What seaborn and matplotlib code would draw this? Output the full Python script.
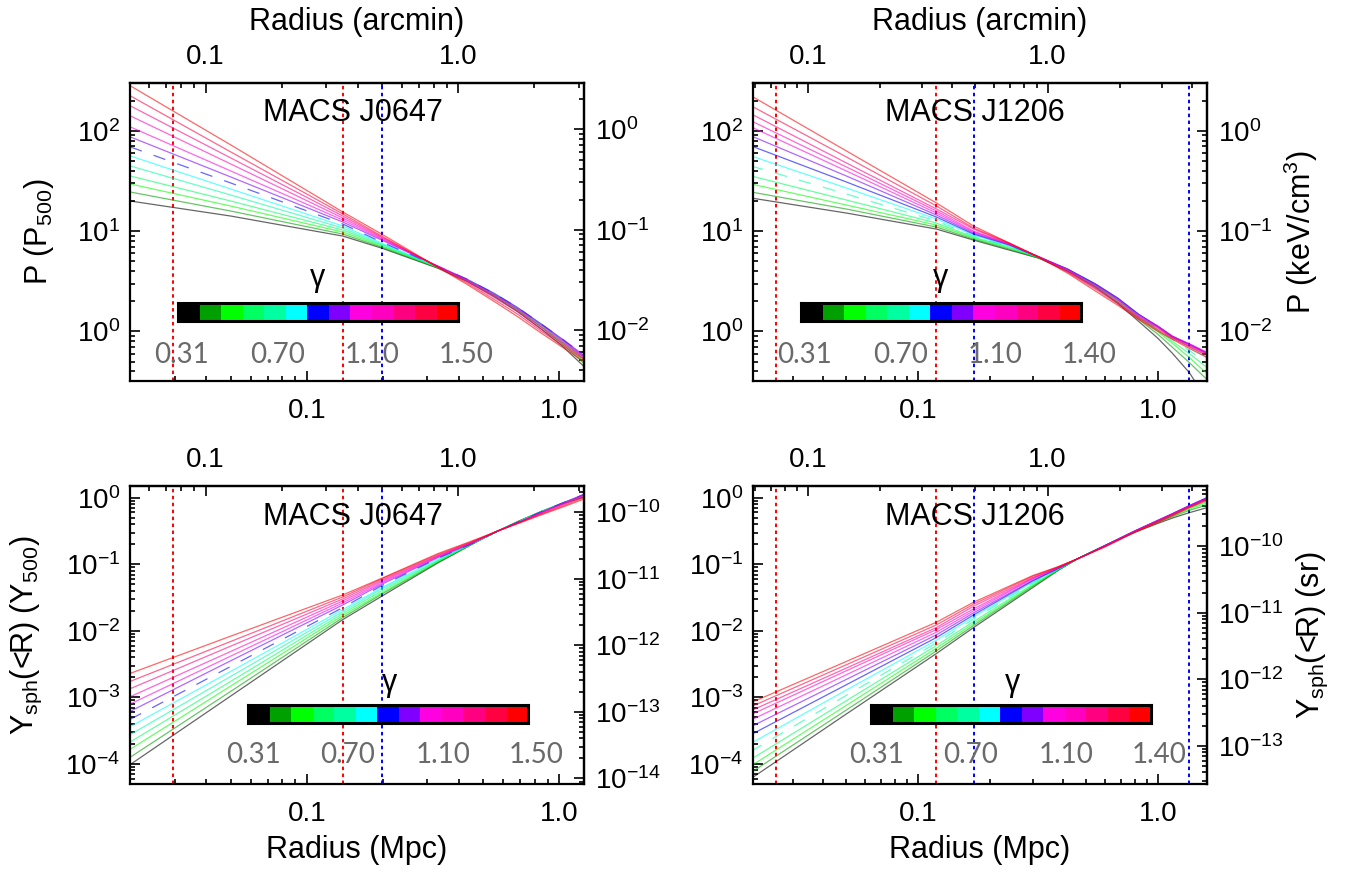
import numpy as np
import pandas as pd
import matplotlib
matplotlib.use("Agg")
import matplotlib.pyplot as plt
import seaborn as sns
from matplotlib.colors import ListedColormap
from matplotlib.ticker import LogLocator, NullFormatter, FixedLocator, FixedFormatter

sns.set_style("ticks")
plt.rcParams['font.family'] = ['Liberation Sans', 'DejaVu Sans']
plt.rcParams['mathtext.fontset'] = 'custom'
plt.rcParams['mathtext.rm'] = 'Liberation Sans'
plt.rcParams['mathtext.it'] = 'Liberation Sans:italic'
plt.rcParams['mathtext.default'] = 'regular'
plt.rcParams['lines.scale_dashes'] = False
for k in ['text.color', 'axes.edgecolor', 'axes.labelcolor', 'xtick.color', 'ytick.color']:
    plt.rcParams[k] = 'black'

# colour table of the gamma bar (low gamma -> high gamma)
gamma_colors = ['#000000', '#00a000', '#00ff00', '#00ff60', '#00ffa0', '#00ffff', '#0000ff',
                '#8000ff', '#ff00e0', '#ff00c0', '#ff0080', '#ff0040', '#ff0000']
gamma_0647 = [0.31, 0.40, 0.50, 0.60, 0.70, 0.80, 0.90, 1.00, 1.10, 1.20, 1.30, 1.40, 1.50]
gamma_1206 = [0.31, 0.40, 0.50, 0.60, 0.70, 0.78, 0.86, 0.94, 1.02, 1.10, 1.20, 1.30, 1.40]
gamma_ticks_0647 = ['0.31', '0.70', '1.10', '1.50']
gamma_ticks_1206 = ['0.31', '0.70', '1.10', '1.40']

# pressure profiles, log10 P/P500 (rows: gamma, low to high)
r_0647_P = [0.02, 0.05, 0.139, 0.198, 0.33, 0.43, 0.55, 0.68, 0.85, 1.03, 1.25]
logP_0647 = [
    [1.30, 1.15, 0.95, 0.83, 0.630, 0.500, 0.35, 0.200, 0.02, -0.150, -0.35],
    [1.39, 1.20, 0.97, 0.84, 0.635, 0.505, 0.36, 0.210, 0.04, -0.130, -0.32],
    [1.47, 1.25, 0.99, 0.85, 0.640, 0.510, 0.37, 0.220, 0.05, -0.115, -0.30],
    [1.55, 1.30, 1.01, 0.86, 0.640, 0.515, 0.37, 0.225, 0.06, -0.100, -0.28],
    [1.65, 1.36, 1.03, 0.87, 0.645, 0.520, 0.38, 0.235, 0.07, -0.090, -0.26],
    [1.75, 1.42, 1.05, 0.88, 0.645, 0.520, 0.38, 0.240, 0.07, -0.085, -0.25],
    [1.84, 1.48, 1.07, 0.89, 0.650, 0.520, 0.38, 0.240, 0.07, -0.080, -0.24],
    [1.94, 1.54, 1.09, 0.91, 0.650, 0.520, 0.38, 0.240, 0.07, -0.080, -0.24],
    [2.04, 1.60, 1.11, 0.92, 0.650, 0.515, 0.37, 0.230, 0.06, -0.090, -0.25],
    [2.15, 1.67, 1.13, 0.93, 0.645, 0.510, 0.36, 0.220, 0.04, -0.105, -0.26],
    [2.25, 1.73, 1.15, 0.94, 0.645, 0.500, 0.34, 0.200, 0.02, -0.120, -0.27],
    [2.35, 1.79, 1.17, 0.95, 0.640, 0.485, 0.32, 0.175, 0.00, -0.140, -0.28],
    [2.45, 1.86, 1.19, 0.97, 0.640, 0.470, 0.30, 0.150, -0.02, -0.160, -0.30],
]
r_1206_P = [0.02, 0.05, 0.119, 0.17, 0.24, 0.318, 0.42, 0.55, 0.68, 0.83, 1.0, 1.15, 1.35, 1.6]
logP_1206 = [
    [1.33, 1.18, 1.02, 0.91, 0.810, 0.730, 0.600, 0.44, 0.280, 0.10, -0.070, -0.22, -0.410, -0.68],
    [1.39, 1.22, 1.04, 0.92, 0.820, 0.730, 0.605, 0.45, 0.295, 0.12, -0.030, -0.16, -0.310, -0.48],
    [1.47, 1.26, 1.06, 0.93, 0.830, 0.735, 0.610, 0.46, 0.310, 0.14, -0.005, -0.12, -0.260, -0.42],
    [1.55, 1.31, 1.08, 0.94, 0.840, 0.740, 0.615, 0.46, 0.315, 0.15, 0.010, -0.10, -0.220, -0.36],
    [1.65, 1.37, 1.10, 0.95, 0.845, 0.740, 0.620, 0.47, 0.320, 0.16, 0.030, -0.08, -0.190, -0.31],
    [1.75, 1.43, 1.12, 0.96, 0.850, 0.740, 0.620, 0.47, 0.330, 0.17, 0.040, -0.06, -0.155, -0.26],
    [1.85, 1.49, 1.14, 0.97, 0.860, 0.740, 0.620, 0.47, 0.330, 0.17, 0.050, -0.05, -0.130, -0.22],
    [1.95, 1.55, 1.16, 0.98, 0.865, 0.745, 0.620, 0.47, 0.330, 0.17, 0.050, -0.05, -0.125, -0.21],
    [2.04, 1.60, 1.18, 0.99, 0.870, 0.745, 0.615, 0.46, 0.320, 0.16, 0.050, -0.05, -0.125, -0.21],
    [2.10, 1.64, 1.20, 1.00, 0.870, 0.740, 0.610, 0.45, 0.310, 0.15, 0.040, -0.06, -0.135, -0.22],
    [2.17, 1.68, 1.22, 1.02, 0.875, 0.740, 0.600, 0.43, 0.290, 0.14, 0.030, -0.06, -0.145, -0.23],
    [2.25, 1.74, 1.25, 1.03, 0.880, 0.740, 0.590, 0.42, 0.275, 0.13, 0.015, -0.07, -0.155, -0.24],
    [2.35, 1.80, 1.28, 1.05, 0.880, 0.740, 0.580, 0.40, 0.260, 0.12, 0.000, -0.08, -0.170, -0.26],
]

# integrated Y profiles, log10 Y/Y500
r_0647_Y = [0.02, 0.05, 0.139, 0.198, 0.33, 0.45, 0.57, 0.7, 0.85, 1.03, 1.25]
logY_0647 = [
    [-4.01, -2.980, -1.83, -1.48, -0.980, -0.700, -0.50, -0.340, -0.205, -0.090, 0.010],
    [-3.90, -2.910, -1.80, -1.45, -0.970, -0.700, -0.50, -0.345, -0.205, -0.085, 0.020],
    [-3.78, -2.830, -1.77, -1.43, -0.960, -0.695, -0.50, -0.345, -0.205, -0.080, 0.030],
    [-3.67, -2.760, -1.74, -1.40, -0.950, -0.695, -0.50, -0.350, -0.205, -0.080, 0.035],
    [-3.56, -2.685, -1.71, -1.37, -0.940, -0.690, -0.50, -0.350, -0.205, -0.080, 0.040],
    [-3.44, -2.610, -1.68, -1.35, -0.920, -0.690, -0.50, -0.350, -0.210, -0.080, 0.045],
    [-3.33, -2.535, -1.65, -1.32, -0.910, -0.690, -0.50, -0.350, -0.210, -0.080, 0.050],
    [-3.21, -2.450, -1.61, -1.30, -0.900, -0.685, -0.50, -0.355, -0.215, -0.080, 0.050],
    [-3.10, -2.380, -1.58, -1.28, -0.890, -0.680, -0.50, -0.360, -0.220, -0.085, 0.045],
    [-2.99, -2.310, -1.55, -1.26, -0.880, -0.675, -0.50, -0.360, -0.225, -0.095, 0.035],
    [-2.87, -2.230, -1.52, -1.24, -0.870, -0.670, -0.50, -0.365, -0.235, -0.110, 0.020],
    [-2.76, -2.160, -1.49, -1.22, -0.855, -0.660, -0.50, -0.370, -0.245, -0.125, 0.000],
    [-2.64, -2.080, -1.46, -1.21, -0.840, -0.650, -0.50, -0.375, -0.255, -0.140, -0.020],
]
r_1206_Y = [0.02, 0.05, 0.119, 0.17, 0.30, 0.38, 0.46, 0.6, 0.8, 1.0, 1.15, 1.35, 1.6]
logY_1206 = [
    [-4.22, -3.25, -2.34, -1.95, -1.35, -1.100, -0.92, -0.720, -0.520, -0.385, -0.305, -0.225, -0.150],
    [-4.13, -3.19, -2.30, -1.92, -1.33, -1.095, -0.92, -0.720, -0.515, -0.370, -0.285, -0.190, -0.110],
    [-4.03, -3.12, -2.26, -1.89, -1.32, -1.090, -0.92, -0.720, -0.510, -0.360, -0.270, -0.170, -0.080],
    [-3.93, -3.05, -2.22, -1.86, -1.30, -1.085, -0.92, -0.720, -0.505, -0.355, -0.260, -0.155, -0.060],
    [-3.81, -2.97, -2.18, -1.82, -1.28, -1.080, -0.92, -0.720, -0.500, -0.350, -0.250, -0.140, -0.040],
    [-3.69, -2.89, -2.14, -1.79, -1.27, -1.075, -0.92, -0.720, -0.500, -0.345, -0.245, -0.130, -0.020],
    [-3.56, -2.81, -2.10, -1.76, -1.25, -1.070, -0.92, -0.720, -0.500, -0.340, -0.240, -0.120, 0.000],
    [-3.44, -2.73, -2.06, -1.73, -1.24, -1.065, -0.92, -0.720, -0.500, -0.340, -0.240, -0.120, 0.000],
    [-3.34, -2.66, -2.02, -1.70, -1.22, -1.060, -0.92, -0.725, -0.500, -0.340, -0.240, -0.125, -0.010],
    [-3.26, -2.60, -1.98, -1.67, -1.21, -1.055, -0.92, -0.730, -0.505, -0.345, -0.245, -0.130, -0.015],
    [-3.20, -2.56, -1.95, -1.63, -1.20, -1.050, -0.92, -0.730, -0.510, -0.350, -0.250, -0.135, -0.020],
    [-3.14, -2.51, -1.91, -1.60, -1.18, -1.045, -0.92, -0.735, -0.515, -0.360, -0.260, -0.140, -0.030],
    [-3.08, -2.46, -1.87, -1.57, -1.17, -1.040, -0.92, -0.740, -0.520, -0.370, -0.270, -0.150, -0.040],
]

# radii of the dotted markers (Mpc)
red_r_0647 = [0.0297, 0.139]
blue_r_0647 = [0.198]
red_r_1206 = [0.0254, 0.119]
blue_r_1206 = [0.170, 1.35]

# decades labelled on the right-hand axes
right_ticks_P = [1e-2, 1e-1, 1e0]
right_ticks_Y_0647 = [1e-14, 1e-13, 1e-12, 1e-11, 1e-10]
right_ticks_Y_1206 = [1e-13, 1e-12, 1e-11, 1e-10]

MPC_PER_ARCMIN = {'0647': 0.398, '1206': 0.346}
P_KEV_FACTOR = {'0647': 0.0097, '1206': 0.0100}
Y_SR_FACTOR = {'0647': 1.65e-10, '1206': 5.35e-10}

fig = plt.figure(figsize=(13.53, 8.73), dpi=100)

TICK = 20
LAB = 22


def log_axis(axis, major_fixed=None, labels=True):
    if major_fixed is None:
        axis.set_major_locator(LogLocator(base=10, numticks=100))
    else:
        axis.set_major_locator(FixedLocator(major_fixed))
        if labels:
            axis.set_major_formatter(FixedFormatter(['%.1f' % v for v in major_fixed]))
    axis.set_minor_locator(LogLocator(base=10, subs=np.arange(2, 10) * 1.0, numticks=100))
    axis.set_minor_formatter(NullFormatter())


def panel(rect, r, logv, gammas, dash_idx, xlim, ylim, cl, right_factor, right_ticks,
          red_r, blue_r, top, gticks):
    ax = fig.add_axes(rect)
    names = ['g%02d' % i for i in range(len(gammas))]
    rows = []
    for i, name in enumerate(names):
        for x, v in zip(r, logv[i]):
            rows.append((x, 10 ** v, name, 'dash' if i == dash_idx else 'solid'))
    df = pd.DataFrame(rows, columns=['r', 'val', 'gamma', 'ls'])
    sns.lineplot(data=df, x='r', y='val', hue='gamma', style='ls',
                 palette=dict(zip(names, gamma_colors)),
                 dashes={'solid': '', 'dash': (9, 9)},
                 estimator=None, sort=False, legend=False,
                 lw=0.9, alpha=0.6, ax=ax)
    for x in red_r:
        ax.axvline(x, color='red', lw=1.4, ls=(0, (2.5, 2.5)), zorder=1)
    for x in blue_r:
        ax.axvline(x, color='blue', lw=1.4, ls=(0, (2.5, 2.5)), zorder=1)

    ax.set_xscale('log')
    ax.set_yscale('log')
    ax.set_xlim(xlim)
    ax.set_ylim(ylim)
    ax.set_xlabel('')
    ax.set_ylabel('')
    log_axis(ax.xaxis, [0.1, 1.0])
    log_axis(ax.yaxis)
    for s in ax.spines.values():
        s.set_linewidth(1.6)
    ax.tick_params(axis='x', which='both', direction='in', labelsize=TICK, pad=12,
                   top=False, width=1.2)
    ax.tick_params(axis='y', which='both', direction='in', labelsize=TICK, pad=7,
                   right=False, width=1.2)
    ax.tick_params(which='major', length=7)
    ax.tick_params(which='minor', length=3.5)

    s = MPC_PER_ARCMIN[cl]
    sec = ax.secondary_xaxis('top', functions=(lambda x, s=s: x / s, lambda a, s=s: a * s))
    log_axis(sec.xaxis, [0.1, 1.0])
    sec.tick_params(which='both', direction='in', labelsize=TICK, pad=9, width=1.2)
    sec.tick_params(which='major', length=7)
    sec.tick_params(which='minor', length=3.5)
    sec.spines['top'].set_linewidth(1.6)

    f = right_factor
    secy = ax.secondary_yaxis('right', functions=(lambda y, f=f: y * f, lambda y, f=f: y / f))
    log_axis(secy.yaxis, right_ticks, labels=False)
    secy.tick_params(which='both', direction='in', labelsize=TICK, pad=8, width=1.2)
    secy.tick_params(which='major', length=7)
    secy.tick_params(which='minor', length=3.5)
    secy.spines['right'].set_linewidth(1.6)

    # title and gamma bar
    ax.text(0.49, 0.90 if top else 0.896, 'MACS J' + cl, transform=ax.transAxes,
            ha='center', va='center', fontsize=LAB)
    if top:
        cb_rect, gpos, lab_x, lab_y = [0.106, 0.201, 0.617, 0.061], (0.414, 0.346), \
            [0.114, 0.326, 0.534, 0.740], 0.087
    else:
        cb_rect, gpos, lab_x, lab_y = [0.26, 0.205, 0.617, 0.060], (0.572, 0.339), \
            [0.273, 0.480, 0.689, 0.894], 0.097
    cax = ax.inset_axes(cb_rect)
    sns.heatmap(np.arange(len(gammas)).reshape(1, -1), cmap=ListedColormap(gamma_colors),
                cbar=False, xticklabels=False, yticklabels=False, ax=cax)
    for sp in cax.spines.values():
        sp.set_visible(True)
        sp.set_linewidth(2.2)
        sp.set_color('black')
    cax.set_xlabel('')
    cax.set_ylabel('')
    ax.text(gpos[0], gpos[1], 'γ', transform=ax.transAxes, ha='center', va='center',
            fontsize=LAB)
    for x, t in zip(lab_x, gticks):
        ax.text(x, lab_y, t, transform=ax.transAxes, ha='center', va='center',
                fontsize=20, color='#6a6a6a', family=['Lato', 'DejaVu Sans'],
                fontweight='normal')
    return ax


L, R, W = 0.0961, 0.5565, 0.3355
B_TOP, B_BOT, H = 0.5636, 0.1019, 0.3414

ax1 = panel([L, B_TOP, W, H], r_0647_P, logP_0647, gamma_0647, 6, (0.02, 1.25), (0.32, 300),
            '0647', P_KEV_FACTOR['0647'], right_ticks_P, red_r_0647, blue_r_0647, True,
            gamma_ticks_0647)
ax2 = panel([R, B_TOP, W, H], r_1206_P, logP_1206, gamma_1206, 4, (0.0204, 1.6), (0.32, 300),
            '1206', P_KEV_FACTOR['1206'], right_ticks_P, red_r_1206, blue_r_1206, True,
            gamma_ticks_1206)
ax3 = panel([L, B_BOT, W, H], r_0647_Y, logY_0647, gamma_0647, 6, (0.02, 1.25), (5e-5, 1.5),
            '0647', Y_SR_FACTOR['0647'], right_ticks_Y_0647, red_r_0647, blue_r_0647, False,
            gamma_ticks_0647)
ax4 = panel([R, B_BOT, W, H], r_1206_Y, logY_1206, gamma_1206, 4, (0.0204, 1.6), (5e-5, 1.5),
            '1206', Y_SR_FACTOR['1206'], right_ticks_Y_1206, red_r_1206, blue_r_1206, False,
            gamma_ticks_1206)

for ax in (ax1, ax2):
    ax.text(0.5, 1.205, 'Radius (arcmin)', transform=ax.transAxes, ha='center',
            va='center', fontsize=LAB)
for ax in (ax3, ax4):
    ax.text(0.5, -0.221, 'Radius (Mpc)', transform=ax.transAxes, ha='center',
            va='center', fontsize=LAB)

ax1.text(-0.20, 0.5, 'P (P$_{500}$)', transform=ax1.transAxes, rotation=90,
         ha='center', va='center', fontsize=LAB)
ax2.text(1.208, 0.5, 'P (keV/cm$^{3}$)', transform=ax2.transAxes, rotation=90,
         ha='center', va='center', fontsize=LAB)
ax3.text(-0.229, 0.5, 'Y$_{sph}$(<R) (Y$_{500}$)', transform=ax3.transAxes, rotation=90,
         ha='center', va='center', fontsize=LAB)
ax4.text(1.232, 0.5, 'Y$_{sph}$(<R) (sr)', transform=ax4.transAxes, rotation=90,
         ha='center', va='center', fontsize=LAB)

fig.savefig('out.png', dpi=100)
